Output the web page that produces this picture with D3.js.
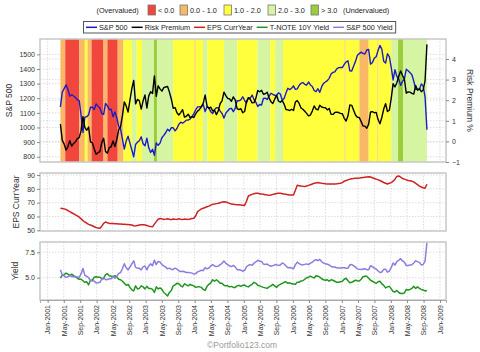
<!DOCTYPE html>
<html><head><meta charset="utf-8">
<script src="https://cdn.jsdelivr.net/npm/d3@7"></script>
<style>
body{margin:0;background:#fff;}
svg{display:block;font-family:"Liberation Sans",Arial,sans-serif;}
</style>
</head><body>
<svg id="c" width="480" height="352"></svg>
<script>
// ---------------- DATA ----------------
const startDate = "2001-04-06";   // first observation (biweekly)
const stepDays = 14;

const sp500 = [
 1140,1242,1266,1291,1260,1214,1224,1215,1205,1190,1184,1085,966,1071,1073,1087,1138,1139,1123,1161,
 1146,1133,1096,1089,1164,1148,1122,1125,1073,1106,1067,1007,990,921,852,908,940,893,846,800,884,900,909,936,889,875,
 927,861,829,851,810,895,878,893,930,946,964,988,976,998,998,977,993,1021,1036,1029,1039,1050,1050,1058,1074,1095,
 1121,1141,1142,1144,1156,1109,1141,1134,1107,1095,1121,1136,1134,1112,1096,1064,1098,1113,1128,1131,1108,1130,1184,1182,1189,1210,
 1186,1167,1203,1201,1222,1190,1172,1143,1157,1154,1198,1201,1191,1212,1234,1227,1220,1218,1237,1229,1187,1198,1235,1268,1259,1268,
 1285,1261,1264,1287,1302,1307,1295,1289,1311,1291,1280,1253,1245,1265,1240,1279,1302,1311,1320,1336,1366,1377,1380,1400,1409,1410,
 1410,1431,1449,1456,1387,1386,1421,1452,1494,1505,1515,1507,1502,1530,1534,1433,1445,1474,1484,1527,1561,1535,1453,1440,1504,1484,
 1411,1325,1395,1349,1331,1288,1315,1332,1398,1388,1375,1361,1317,1262,1261,1260,1298,1283,1210,985
];
const riskPremium = [
 0.84,0.05,-0.13,-0.42,-0.25,0.03,-0.23,-0.10,-0.02,0.13,0.18,0.52,1.20,0.68,0.54,0.70,-0.02,-0.07,-0.37,-0.62,
 -0.55,-0.50,-0.06,0.15,-0.49,-0.57,-0.30,-0.26,0.02,-0.25,0.08,0.57,0.70,1.25,1.92,1.72,1.42,2.00,2.56,2.96,1.82,2.04,1.97,1.57,1.97,2.25,
 1.62,2.21,2.41,2.32,3.18,2.19,2.70,2.55,2.44,2.61,2.64,2.67,2.39,2.06,1.61,1.64,1.39,1.28,1.40,1.54,1.18,1.22,1.32,1.15,1.20,1.16,
 1.35,1.47,1.55,1.68,1.86,2.25,1.72,1.60,1.66,1.48,1.51,1.30,1.49,1.84,1.97,2.39,2.22,2.09,2.06,1.95,2.16,2.02,1.59,1.54,1.59,1.39,
 1.45,1.93,2.12,2.04,1.87,1.88,2.10,2.47,2.41,2.48,2.29,2.31,2.39,2.12,1.93,1.84,2.05,2.24,1.96,1.90,1.99,1.81,1.55,1.53,1.50,1.56,
 1.50,1.91,1.98,1.84,1.62,1.56,1.46,1.36,1.24,1.28,1.47,1.72,1.57,1.53,1.75,1.67,1.64,1.63,1.53,1.60,1.31,1.31,1.40,1.42,1.40,1.36,
 1.34,1.12,0.99,1.24,1.77,1.75,1.51,1.28,1.17,1.16,0.96,0.75,0.74,0.64,0.84,1.43,1.44,1.39,1.41,1.06,0.86,1.16,1.57,1.83,1.45,1.51,
 2.09,2.80,2.64,2.85,3.16,3.42,3.20,3.03,2.34,2.40,2.39,2.33,2.30,2.71,2.48,2.56,2.41,2.50,2.94,4.71
];
const epsCurrYear = [
 66,65.8,65.5,65,64.3,63.5,62.7,62,61.2,60.4,59.5,58.3,57,56,55.2,54.3,53.8,53.3,52.6,52,
 51.6,51.5,53,55,56,55.5,55,55,54.9,54.8,54.7,54.6,54.5,54.4,54.3,54.2,54.2,54,53.8,53.3,53.2,53.5,53.8,54,54,53.8,
 53.5,53,52.7,52.5,54.5,56.3,58,58.5,58.3,57.8,58.1,58.4,58,57.7,58.2,58,57.9,58.3,58,57.8,58.1,58,57.9,58.2,58.5,58.7,
 60.5,63.5,64.5,65.5,66,66.5,67,67.5,68.2,68.8,69,69.3,69.6,70,70.4,70.7,70.5,70,69.5,69,68.8,68.6,68.5,68.4,68.3,68.2,
 68,71,74.8,75.5,76,76.5,76.8,76.8,76.5,76.2,76,75.8,75.5,75.4,75.6,76,76.3,76.6,76.8,76.8,76.5,76.2,76,75.8,75.6,75.6,
 75.6,79,82.6,82.3,82,81.8,81.7,82,82.5,83,83.5,84,84.3,84.5,84.3,84,83.8,83.6,83.5,83.5,83.5,83.5,83.5,83.6,83.8,84,
 84.5,85.5,86,86.5,87,87.3,87.5,87.6,87.7,87.8,88,88.2,88.4,88.6,88.8,88.6,88,87.5,87,86.5,86,85.3,84.6,84,83.5,84,
 84.5,85.5,87,89,89.3,88.5,87.5,87,86.5,86,85.8,85.5,85,84,83,82,81.3,80.8,80.4,83.3
];
const tnote10y = [
 4.95,5.25,5.30,5.45,5.35,5.20,5.35,5.20,5.10,4.95,4.85,4.85,4.70,4.55,4.60,4.30,4.75,4.75,5.05,5.10,
 5.05,5.05,4.90,4.90,5.30,5.40,5.20,5.15,5.10,5.20,5.05,4.85,4.80,4.65,4.45,4.25,4.35,4.05,3.80,3.70,4.20,3.90,3.95,4.20,4.10,3.90,
 4.15,3.95,3.95,3.85,3.55,4.10,3.90,4.00,3.85,3.55,3.40,3.20,3.55,3.75,4.20,4.30,4.45,4.40,4.20,4.10,4.40,4.30,4.20,4.35,4.25,4.20,
 4.05,4.10,4.10,4.05,3.85,3.75,4.15,4.35,4.50,4.80,4.65,4.80,4.65,4.45,4.45,4.25,4.20,4.20,4.10,4.15,4.05,4.05,4.20,4.25,4.15,4.25,
 4.28,4.15,4.10,4.25,4.35,4.55,4.45,4.25,4.20,4.12,4.05,4.00,3.95,4.10,4.20,4.35,4.20,4.05,4.25,4.35,4.45,4.55,4.60,4.45,4.50,4.40,
 4.38,4.35,4.55,4.55,4.68,4.70,4.85,5.00,5.05,5.15,5.05,4.98,5.20,5.15,5.05,4.90,4.80,4.75,4.80,4.65,4.80,4.75,4.65,4.55,4.55,4.60,
 4.65,4.85,4.95,4.70,4.50,4.55,4.65,4.75,4.70,4.67,4.85,5.10,5.15,5.15,4.95,4.75,4.65,4.55,4.45,4.60,4.65,4.40,4.25,4.00,4.10,4.15,
 3.90,3.65,3.60,3.75,3.55,3.45,3.45,3.50,3.85,3.80,3.85,3.95,4.15,3.95,4.10,3.95,3.85,3.80,3.70,3.75
];
const sp500Yield = [
 5.79,5.30,5.17,5.03,5.10,5.23,5.12,5.10,5.08,5.08,5.03,5.37,5.90,5.23,5.14,5.00,4.73,4.68,4.68,4.48,
 4.50,4.55,4.84,5.05,4.81,4.83,4.90,4.89,5.12,4.95,5.13,5.42,5.50,5.90,6.37,5.97,5.77,6.05,6.36,6.66,6.02,5.94,5.92,5.77,6.07,6.15,
 5.77,6.16,6.36,6.17,6.73,6.29,6.60,6.55,6.29,6.16,6.04,5.87,5.94,5.81,5.81,5.94,5.84,5.68,5.60,5.64,5.58,5.52,5.52,5.50,5.45,5.36,
 5.40,5.57,5.65,5.73,5.71,6.00,5.87,5.95,6.16,6.28,6.16,6.10,6.14,6.29,6.42,6.64,6.42,6.29,6.16,6.10,6.21,6.07,5.79,5.79,5.74,5.64,
 5.73,6.08,6.22,6.29,6.22,6.43,6.55,6.72,6.61,6.60,6.34,6.31,6.34,6.22,6.13,6.19,6.25,6.29,6.21,6.25,6.44,6.36,6.15,5.98,6.00,5.96,
 5.88,6.26,6.53,6.39,6.30,6.26,6.31,6.36,6.29,6.43,6.52,6.70,6.77,6.68,6.80,6.57,6.44,6.38,6.33,6.25,6.11,6.06,6.05,5.97,5.95,5.96,
 5.99,5.97,5.94,5.94,6.27,6.30,6.16,6.03,5.87,5.83,5.81,5.85,5.89,5.79,5.79,6.18,6.09,5.94,5.86,5.66,5.51,5.56,5.82,5.83,5.55,5.66,
 5.99,6.45,6.24,6.60,6.71,6.87,6.65,6.53,6.19,6.20,6.24,6.28,6.45,6.66,6.58,6.51,6.26,6.30,6.64,8.46
];

// valuation bands: [start, end, category index]
const bandLabels = ["< 0.0","0.0 - 1.0","1.0 - 2.0","2.0 - 3.0","> 3.0"];
const bands = [
 ["2001-04-06","2001-05-12",1],["2001-05-12","2001-08-25",0],["2001-08-25","2001-10-05",1],
 ["2001-10-05","2001-10-25",2],["2001-10-25","2001-11-24",1],["2001-11-24","2002-02-21",0],
 ["2002-02-21","2002-03-22",1],["2002-03-22","2002-06-07",0],["2002-06-07","2002-07-20",1],
 ["2002-07-20","2002-09-20",2],["2002-09-20","2002-10-26",3],["2002-10-26","2002-12-05",2],
 ["2002-12-05","2003-03-04",3],["2003-03-04","2003-03-26",4],["2003-03-26","2003-07-24",3],
 ["2003-07-24","2004-01-01",2],["2004-01-01","2004-01-08",1],["2004-01-08","2004-03-03",2],
 ["2004-03-03","2004-04-05",3],["2004-04-05","2004-08-07",2],["2004-08-07","2004-11-14",3],
 ["2004-11-14","2005-04-13",2],["2005-04-13","2005-07-17",3],["2005-07-17","2005-08-22",2],
 ["2005-08-22","2005-10-20",3],["2005-10-20","2007-01-22",2],["2007-01-22","2007-01-29",1],
 ["2007-01-29","2007-05-12",2],["2007-05-12","2007-07-20",1],["2007-07-20","2007-09-24",2],
 ["2007-09-24","2007-10-01",1],["2007-10-01","2008-01-04",2],["2008-01-04","2008-02-24",3],
 ["2008-02-24","2008-04-01",4],["2008-04-01","2008-09-26",3]
];

const xTickLabels = ["Jan-2001","May-2001","Sep-2001","Jan-2002","May-2002","Sep-2002","Jan-2003","May-2003","Sep-2003",
 "Jan-2004","May-2004","Sep-2004","Jan-2005","May-2005","Sep-2005","Jan-2006","May-2006","Sep-2006",
 "Jan-2007","May-2007","Sep-2007","Jan-2008","May-2008","Sep-2008","Jan-2009"];
const spTicks = [800,900,1000,1100,1200,1300,1400,1500];
const rpTicks = [-1,0,1,2,3,4];
const epsTicks = [50,60,70,80,90];
const yieldTicks = [5.0,7.5];
const seriesNames = ["S&P 500","Risk Premium","EPS CurrYear","T-NOTE 10Y Yield","S&P 500 Yield"];

// ---------------- STYLE ----------------
const bandColors = ["#f0463c","#f8b866","#ffff3e","#d5f5a2","#9bcc3a"];
const seriesColors = ["#1c1cc4","#000000","#cc2222","#1f961f","#8c7ce0"];
const parse = d3.utcParse("%Y-%m-%d");
const parseTick = d3.utcParse("%b-%Y");
const t0 = parse(startDate);
const dates = sp500.map((_, i) => d3.utcDay.offset(t0, i * stepDays));
const tickDates = xTickLabels.map(parseTick);

const svg = d3.select("#c");
const L = 40, R = 446;
const P = {top:[39,162], mid:[173,231], bot:[242,300]};

const x = d3.scaleUtc().domain([parse("2000-11-05"), parse("2009-02-15")]).range([L, R]);
const ySP = d3.scaleLinear().domain([764, 1605]).range([P.top[1], P.top[0]]);
const yRP = d3.scaleLinear().domain([-1.0, 4.97]).range([P.top[1], P.top[0]]);
const yEPS = d3.scaleLinear().domain([49.5, 91.45]).range([P.mid[1], P.mid[0]]);
const yY = d3.scaleLinear().domain([2.81, 8.51]).range([P.bot[1], P.bot[0]]);

const gridColor = "#d4d4d4";
function panelBase(p, yScale, yTicks, extraScale, extraTicks) {
  const g = svg.append("g");
  g.append("rect").attr("x", L).attr("y", p[0]).attr("width", R - L).attr("height", p[1] - p[0]).attr("fill", "#fff");
  g.selectAll("line.vg").data(tickDates).join("line")
    .attr("x1", d => x(d)).attr("x2", d => x(d)).attr("y1", p[0]).attr("y2", p[1])
    .attr("stroke", gridColor).attr("stroke-width", 0.8).attr("stroke-dasharray", "1.5,1.5");
  const hg = yTicks.map(v => yScale(v)).concat(extraTicks ? extraTicks.map(v => extraScale(v)) : []);
  g.selectAll("line.hg").data(hg).join("line")
    .attr("x1", L).attr("x2", R).attr("y1", d => d).attr("y2", d => d)
    .attr("stroke", gridColor).attr("stroke-width", 0.8).attr("stroke-dasharray", "1.5,1.5");
  return g;
}
function frame(p) {
  svg.append("rect").attr("x", L).attr("y", p[0]).attr("width", R - L).attr("height", p[1] - p[0])
    .attr("fill", "none").attr("stroke", "#c8c8c8").attr("stroke-width", 1.5);
}
function leftAxis(p, scale, ticks, fmt, title, titleX) {
  const ax = svg.append("g").attr("transform", `translate(${L},0)`)
    .call(d3.axisLeft(scale).tickValues(ticks).tickFormat(fmt).tickSize(3).tickPadding(2));
  ax.select(".domain").remove();
  ax.selectAll(".tick line").attr("stroke", "#888");
  ax.selectAll(".tick text").attr("font-size", 7).attr("fill", "#333").attr("font-family", "Liberation Sans, Arial, sans-serif");
  svg.append("text").attr("transform", `translate(${titleX},${(p[0] + p[1]) / 2}) rotate(-90)`)
    .attr("text-anchor", "middle").attr("font-size", 8.5).attr("fill", "#333").text(title);
}
const lineOf = (vals, ys) => d3.line().x((d, i) => x(dates[i])).y(d => ys(d))(vals);

// ---------- TOP PANEL ----------
panelBase(P.top, ySP, spTicks, yRP, rpTicks);
svg.append("g").selectAll("rect").data(bands).join("rect")
  .attr("x", d => x(parse(d[0]))).attr("width", d => x(parse(d[1])) - x(parse(d[0])))
  .attr("y", P.top[0]).attr("height", P.top[1] - P.top[0])
  .attr("fill", d => bandColors[d[2]]);
svg.append("path").attr("d", lineOf(sp500, ySP)).attr("fill", "none")
  .attr("stroke", seriesColors[0]).attr("stroke-width", 1.4).attr("stroke-linejoin", "round");
svg.append("path").attr("d", lineOf(riskPremium, yRP)).attr("fill", "none")
  .attr("stroke", seriesColors[1]).attr("stroke-width", 1.4).attr("stroke-linejoin", "round");
frame(P.top);
leftAxis(P.top, ySP, spTicks, d3.format("d"), "S&P 500", 12);
{
  const ax = svg.append("g").attr("transform", `translate(${R},0)`)
    .call(d3.axisRight(yRP).tickValues(rpTicks).tickFormat(d3.format("d")).tickSize(3).tickPadding(3));
  ax.select(".domain").remove();
  ax.selectAll(".tick line").attr("stroke", "#888");
  ax.selectAll(".tick text").attr("font-size", 7).attr("fill", "#333").attr("font-family", "Liberation Sans, Arial, sans-serif");
  svg.append("text").attr("transform", `translate(467,${(P.top[0] + P.top[1]) / 2}) rotate(90)`)
    .attr("text-anchor", "middle").attr("font-size", 8.5).attr("fill", "#333").text("Risk Premium %");
}

// ---------- MIDDLE PANEL ----------
panelBase(P.mid, yEPS, epsTicks);
svg.append("path").attr("d", lineOf(epsCurrYear, yEPS)).attr("fill", "none")
  .attr("stroke", seriesColors[2]).attr("stroke-width", 1.5).attr("stroke-linejoin", "round");
frame(P.mid);
leftAxis(P.mid, yEPS, epsTicks, d3.format("d"), "EPS CurrYear", 19);

// ---------- BOTTOM PANEL ----------
panelBase(P.bot, yY, yieldTicks);
svg.append("path").attr("d", lineOf(tnote10y, yY)).attr("fill", "none")
  .attr("stroke", seriesColors[3]).attr("stroke-width", 1.5).attr("stroke-linejoin", "round");
svg.append("path").attr("d", lineOf(sp500Yield, yY)).attr("fill", "none")
  .attr("stroke", seriesColors[4]).attr("stroke-width", 1.5).attr("stroke-linejoin", "round");
frame(P.bot);
leftAxis(P.bot, yY, yieldTicks, d3.format(".1f"), "Yield", 18);
{
  const ax = svg.append("g").attr("transform", `translate(0,${P.bot[1]})`)
    .call(d3.axisBottom(x).tickValues(tickDates).tickFormat(d3.utcFormat("%b-%Y")).tickSize(3));
  ax.select(".domain").attr("stroke", "#aaa");
  ax.selectAll(".tick line").attr("stroke", "#888");
  ax.selectAll(".tick text").attr("font-size", 7).attr("fill", "#333").attr("font-family", "Liberation Sans, Arial, sans-serif")
    .attr("transform", "rotate(-90)").attr("x", -5).attr("y", 0).attr("dy", "0.33em").attr("text-anchor", "end");
}

// ---------- LEGEND ----------
const lg = svg.append("g").attr("font-size", 7.3).attr("fill", "#222");
lg.append("text").attr("x", 96.5).attr("y", 12.5).text("(Overvalued)");
const boxX = [148, 180, 224, 268, 311];
bandLabels.forEach((lab, i) => {
  lg.append("rect").attr("x", boxX[i]).attr("y", 5).attr("width", 7.5).attr("height", 10)
    .attr("fill", bandColors[i]).attr("stroke", "#777").attr("stroke-width", 0.8);
  lg.append("text").attr("x", boxX[i] + 10).attr("y", 12.5).text(lab);
});
lg.append("text").attr("x", 343).attr("y", 12.5).text("(Undervalued)");

const row = lg.append("g");
let cx = 86;
seriesNames.forEach((name, i) => {
  row.append("line").attr("x1", cx).attr("x2", cx + 11).attr("y1", 27.3).attr("y2", 27.3)
    .attr("stroke", seriesColors[i]).attr("stroke-width", 1.5);
  const t = row.append("text").attr("x", cx + 13).attr("y", 30).text(name);
  cx += 13 + t.node().getComputedTextLength() + 4;
});
lg.append("rect").attr("x", 83.5).attr("y", 21.5).attr("width", cx - 1 - 83.5).attr("height", 11.5)
  .attr("fill", "none").attr("stroke", "#555").attr("stroke-width", 1);

// ---------- FOOTER ----------
svg.append("text").attr("x", 207).attr("y", 348).attr("font-size", 8.5).attr("fill", "#9a9a9a").text("©Portfolio123.com");
</script>
</body></html>
